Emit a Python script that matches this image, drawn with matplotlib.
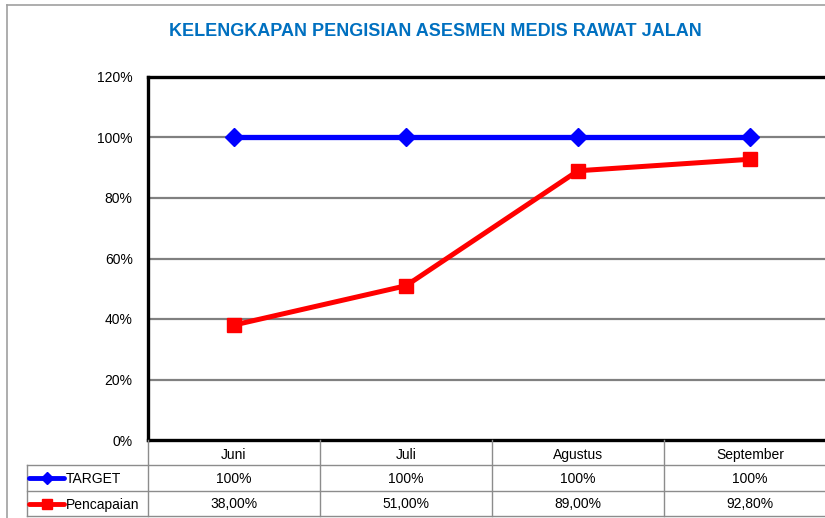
import matplotlib
matplotlib.use("Agg")
import matplotlib.pyplot as plt
from matplotlib.lines import Line2D

# data
bulan = ["Juni", "Juli", "Agustus", "September"]
target = [100, 100, 100, 100]
pencapaian = [38.0, 51.0, 89.0, 92.8]
judul = "KELENGKAPAN PENGISIAN ASESMEN MEDIS RAWAT JALAN"

W, H = 825, 518
plt.rcParams['font.family'] = ['Liberation Sans', 'DejaVu Sans']

fig = plt.figure(figsize=(W / 100, H / 100), dpi=100)

def fx(px):
    return px / W

def fy(py):
    return 1 - py / H

# plot area (right side is cut off by the figure edge like the original)
left, right, top, bottom = 148, 825, 77, 440
ax = fig.add_axes([fx(left), fy(bottom), fx(right - left), (bottom - top) / H])
step = 172.0
ax.set_xlim(-0.5, -0.5 + (right - left) / step)
ax.set_ylim(0, 120)
ax.set_yticks(range(0, 121, 20))
ax.set_yticklabels([f"{v}%" for v in range(0, 121, 20)], fontsize=10)
ax.tick_params(axis='y', length=0, pad=11)
ax.set_xticks([])
for v in range(20, 101, 20):
    ax.axhline(v, color='#808080', lw=1.6, zorder=1)

for s in ['top', 'left', 'bottom']:
    ax.spines[s].set_linewidth(2.4)
    ax.spines[s].set_color('black')
ax.spines['right'].set_visible(False)

x = list(range(len(bulan)))
ax.plot(x, target, color='#0000FF', lw=3.8, marker='D', markersize=9.5, zorder=3)
ax.plot(x, pencapaian, color='#FF0000', lw=3.6, marker='s', markersize=10.5, zorder=3)

# title
fig.text(fx(435), fy(32), judul, ha='center', va='center', fontsize=13,
         fontweight='bold', color='#0070C0')

# outer chart border
fig.add_artist(Line2D([fx(7), fx(7)], [fy(518), fy(5)], color='#A0A0A0', lw=1.2))
fig.add_artist(Line2D([fx(7), fx(825)], [fy(5), fy(5)], color='#A0A0A0', lw=1.2))

# data table
grid_c = '#8C8C8C'
tbl_left = 27
row_lines = [465, 491, 516]
col_lines = [left + step * i for i in range(len(bulan) + 1)]
for cx in col_lines:
    fig.add_artist(Line2D([fx(cx), fx(cx)], [fy(bottom), fy(516)], color=grid_c, lw=1.0))
fig.add_artist(Line2D([fx(tbl_left), fx(tbl_left)], [fy(465), fy(516)], color=grid_c, lw=1.0))
for ry in row_lines:
    fig.add_artist(Line2D([fx(tbl_left), fx(825)], [fy(ry), fy(ry)], color=grid_c, lw=1.0))

for i, b in enumerate(bulan):
    cx = left + step * (i + 0.5)
    fig.text(fx(cx), fy(455), b, ha='center', va='center', fontsize=10)
    fig.text(fx(cx), fy(479), f"{target[i]:.0f}%", ha='center', va='center', fontsize=10)
    fig.text(fx(cx), fy(504), f"{pencapaian[i]:.2f}%".replace('.', ','),
             ha='center', va='center', fontsize=10)

# legend keys inside the table
for ry, c, m, ms, name in [(478, '#0000FF', 'D', 6, 'TARGET'),
                           (504, '#FF0000', 's', 6.5, 'Pencapaian')]:
    fig.add_artist(Line2D([fx(29), fx(64)], [fy(ry), fy(ry)], color=c, lw=3.5,
                          solid_capstyle='round'))
    fig.add_artist(Line2D([fx(46.5)], [fy(ry)], color=c, marker=m, markersize=ms, lw=0))
    fig.text(fx(66), fy(ry + 1), name, ha='left', va='center', fontsize=10)

fig.savefig("out.png", dpi=100)
